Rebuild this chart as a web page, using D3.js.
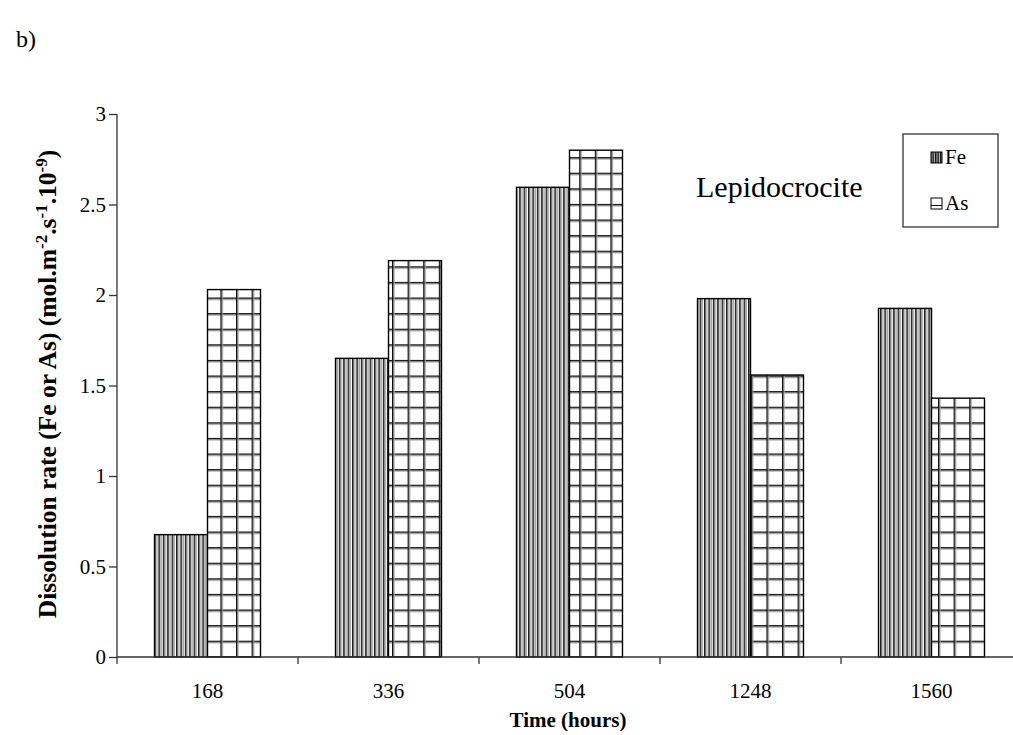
<!DOCTYPE html>
<html><head><meta charset="utf-8">
<script src="https://cdn.jsdelivr.net/npm/d3@7"></script>
<style>html,body{margin:0;padding:0;background:#fff;overflow:hidden}</style>
</head><body>
<script>
const categories = ["168","336","504","1248","1560"];
const seriesNames = ["Fe","As"];
const feValues = [0.676, 1.65, 2.595, 1.98, 1.926];
const asValues = [2.03, 2.19, 2.80, 1.558, 1.43];
const yTicks = [0, 0.5, 1, 1.5, 2, 2.5, 3];

const W = 1013, H = 735;
const FONT = "Liberation Serif, Times New Roman, serif";
const svg = d3.select("body").append("svg").attr("width", W).attr("height", H)
  .attr("font-family", FONT);

const defs = svg.append("defs");
// Fe vertical stripes
const pFe = defs.append("pattern").attr("id","pFe").attr("patternUnits","userSpaceOnUse")
  .attr("width",4.4).attr("height",10);
pFe.append("rect").attr("width",4.4).attr("height",10).attr("fill","#fff");
pFe.append("rect").attr("x",0).attr("width",1.5).attr("height",10).attr("fill","#1a1a1a");
pFe.append("rect").attr("x",2.2).attr("width",1.2).attr("height",10).attr("fill","#9a9a9a");
// As grid
const g = 15.6;
const pAs = defs.append("pattern").attr("id","pAs").attr("patternUnits","userSpaceOnUse")
  .attr("width",g).attr("height",g).attr("x",2).attr("y",298 % g - 0.5);
pAs.append("rect").attr("width",g).attr("height",g).attr("fill","#fff");
pAs.append("rect").attr("x",0).attr("y",0).attr("width",g).attr("height",1.6).attr("fill","#111");
pAs.append("rect").attr("x",0).attr("y",1.6).attr("width",g).attr("height",1).attr("fill","#aaa");
pAs.append("rect").attr("x",0).attr("y",0).attr("width",1.6).attr("height",g).attr("fill","#111");
pAs.append("rect").attr("x",1.6).attr("y",0).attr("width",1).attr("height",g).attr("fill","#aaa");
// legend Fe swatch pattern (bolder)
const pFeL = defs.append("pattern").attr("id","pFeL").attr("patternUnits","userSpaceOnUse")
  .attr("width",2.5).attr("height",10);
pFeL.append("rect").attr("width",2.5).attr("height",10).attr("fill","#bbb");
pFeL.append("rect").attr("width",1.4).attr("height",10).attr("fill","#111");

const x0 = 117, y0 = 657, yTop = 114;
const x = d3.scaleBand().domain(categories).range([x0, x0 + 5*181]).paddingInner(0).paddingOuter(0);
const xs = d3.scaleBand().domain(seriesNames).range([0, x.bandwidth()]).paddingInner(0).paddingOuter(0.708);
const y = d3.scaleLinear().domain([0,3]).range([y0, yTop]);

const data = categories.map((c,i)=>({cat:c, Fe:feValues[i], As:asValues[i]}));

// bars
const grp = svg.append("g");
data.forEach(d=>{
  seriesNames.forEach(s=>{
    grp.append("rect")
      .attr("x", x(d.cat)+xs(s))
      .attr("y", y(d[s]))
      .attr("width", xs.bandwidth())
      .attr("height", y0 - y(d[s]))
      .attr("fill", s==="Fe" ? "url(#pFe)" : "url(#pAs)")
      .attr("stroke","#000").attr("stroke-width",1.4);
  });
});

// y axis
const yAxis = svg.append("g").attr("transform",`translate(${x0},0)`)
  .call(d3.axisLeft(y).tickValues(yTicks).tickFormat(d3.format("")).tickSize(8).tickPadding(3));
yAxis.attr("font-family", FONT);
yAxis.select(".domain").attr("stroke","#333").attr("stroke-width",1.3).attr("d",`M0,${yTop}V${y0}`);
yAxis.selectAll(".tick line").attr("stroke","#333").attr("stroke-width",1.3);
yAxis.selectAll(".tick text").attr("font-size",21).attr("fill","#000");

// x axis
const xAxis = svg.append("g").attr("transform",`translate(0,${y0})`)
  .call(d3.axisBottom(x).tickSize(0).tickPadding(26));
xAxis.attr("font-family", FONT);
xAxis.select(".domain").attr("stroke","#333").attr("stroke-width",1.3).attr("d",`M${x0},0H${x0+5*181}`);
xAxis.selectAll(".tick text").attr("font-size",21).attr("fill","#000");
// band boundary ticks
xAxis.selectAll("line.bt").data(categories).enter().append("line").attr("class","bt")
  .attr("x1",d=>x(d)).attr("x2",d=>x(d)).attr("y1",0).attr("y2",7)
  .attr("stroke","#333").attr("stroke-width",1.3);

// axis titles
svg.append("text").attr("x", 568).attr("y", 727).attr("text-anchor","middle")
  .attr("font-size",21).attr("font-weight","bold").text("Time (hours)");

const yl = svg.append("text").attr("transform","translate(56,384) rotate(-90)")
  .attr("text-anchor","middle").attr("font-size",25.5).attr("font-weight","bold");
yl.append("tspan").text("Dissolution rate (Fe or As) (mol.m");
yl.append("tspan").attr("dy",-9).attr("font-size",17).text("-2");
yl.append("tspan").attr("dy",9).text(".s");
yl.append("tspan").attr("dy",-9).attr("font-size",17).text("-1");
yl.append("tspan").attr("dy",9).text(".10");
yl.append("tspan").attr("dy",-9).attr("font-size",17).text("-9");
yl.append("tspan").attr("dy",9).text(")");

// annotation
svg.append("text").attr("x",696).attr("y",197).attr("font-size",30).attr("fill","#000")
  .text("Lepidocrocite");

svg.append("text").attr("x",16).attr("y",47).attr("font-size",24).text("b)");

// legend
svg.append("rect").attr("x",903).attr("y",134).attr("width",95).attr("height",93)
  .attr("fill","#fff").attr("stroke","#333").attr("stroke-width",1.3);
svg.append("rect").attr("x",931).attr("y",152).attr("width",11).attr("height",11)
  .attr("fill","url(#pFeL)").attr("stroke","#000").attr("stroke-width",1);
svg.append("text").attr("x",945).attr("y",164).attr("font-size",21).text(seriesNames[0]);
svg.append("rect").attr("x",931).attr("y",198).attr("width",11).attr("height",11)
  .attr("fill","#fff").attr("stroke","#000").attr("stroke-width",1);
svg.append("line").attr("x1",931).attr("x2",942).attr("y1",205.5).attr("y2",205.5)
  .attr("stroke","#000").attr("stroke-width",1);
svg.append("text").attr("x",945).attr("y",210).attr("font-size",21).text(seriesNames[1]);
</script>
</body></html>
